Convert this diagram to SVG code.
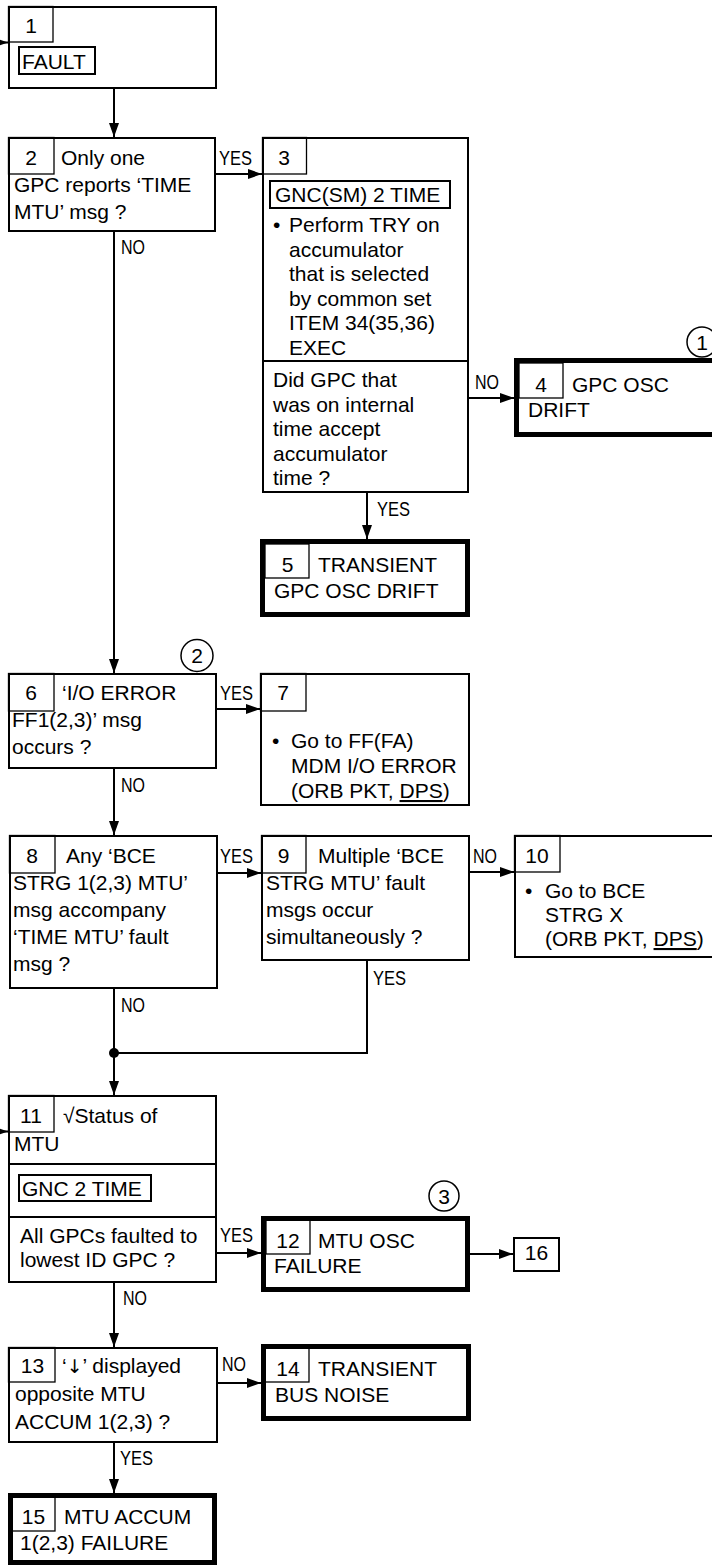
<svg xmlns="http://www.w3.org/2000/svg" width="712" height="1566" viewBox="0 0 712 1566">
<defs>
<marker id="ah" markerUnits="userSpaceOnUse" markerWidth="14" markerHeight="10" refX="14" refY="5" orient="auto">
<path d="M0,0 L14,5 L0,10 z" fill="#000"/>
</marker>
<style>
.box{fill:#fff;stroke:#000;stroke-width:2}
.tbox{fill:#fff;stroke:#000;stroke-width:5}
.nbox{fill:none;stroke:#000;stroke-width:1.3}
.ibox{fill:none;stroke:#000;stroke-width:2}
.div{stroke:#000;stroke-width:2}
.t{font-family:"Liberation Sans",Arial,sans-serif;font-size:21px;fill:#000}
.n{font-family:"Liberation Sans",Arial,sans-serif;font-size:21px;fill:#000;text-anchor:middle}
.lbl{font-family:"Liberation Sans Narrow","Liberation Sans",Arial,sans-serif;font-size:20.5px;fill:#000}
.cn{fill:none;stroke:#000;stroke-width:2}
.circ{fill:#fff;stroke:#000;stroke-width:1.5}
</style>
</defs>
<rect width="712" height="1566" fill="#fff"/>

<g id="connectors">
<path class="cn" d="M-10,42.5 H8" marker-end="url(#ah)"/>
<path class="cn" d="M114,89 V137" marker-end="url(#ah)"/>
<path class="cn" d="M216,174 H262" marker-end="url(#ah)"/>
<path class="cn" d="M469,398 H514" marker-end="url(#ah)"/>
<path class="cn" d="M367,493 V539" marker-end="url(#ah)"/>
<path class="cn" d="M114,232 V673" marker-end="url(#ah)"/>
<path class="cn" d="M217,709 H260" marker-end="url(#ah)"/>
<path class="cn" d="M114,769 V835" marker-end="url(#ah)"/>
<path class="cn" d="M218,873 H261" marker-end="url(#ah)"/>
<path class="cn" d="M470,872 H514" marker-end="url(#ah)"/>
<path class="cn" d="M114,989 V1053"/>
<path class="cn" d="M367,961 V1053 H114"/>
<circle cx="114" cy="1053" r="5" fill="#000"/>
<path class="cn" d="M114,1053 V1095" marker-end="url(#ah)"/>
<path class="cn" d="M-10,1131.5 H8" marker-end="url(#ah)"/>
<path class="cn" d="M217,1253 H261" marker-end="url(#ah)"/>
<path class="cn" d="M470,1254 H513" marker-end="url(#ah)"/>
<path class="cn" d="M114,1283 V1347" marker-end="url(#ah)"/>
<path class="cn" d="M218,1383 H261" marker-end="url(#ah)"/>
<path class="cn" d="M114,1443 V1493" marker-end="url(#ah)"/>
<text class="lbl" x="219" y="165" textLength="33" lengthAdjust="spacingAndGlyphs">YES</text>
<text class="lbl" x="121" y="254" textLength="24" lengthAdjust="spacingAndGlyphs">NO</text>
<text class="lbl" x="475" y="389" textLength="24" lengthAdjust="spacingAndGlyphs">NO</text>
<text class="lbl" x="377" y="516" textLength="33" lengthAdjust="spacingAndGlyphs">YES</text>
<text class="lbl" x="220" y="700" textLength="33" lengthAdjust="spacingAndGlyphs">YES</text>
<text class="lbl" x="121" y="792" textLength="24" lengthAdjust="spacingAndGlyphs">NO</text>
<text class="lbl" x="220" y="863" textLength="33" lengthAdjust="spacingAndGlyphs">YES</text>
<text class="lbl" x="473" y="863" textLength="24" lengthAdjust="spacingAndGlyphs">NO</text>
<text class="lbl" x="373" y="985" textLength="33" lengthAdjust="spacingAndGlyphs">YES</text>
<text class="lbl" x="121" y="1012" textLength="24" lengthAdjust="spacingAndGlyphs">NO</text>
<text class="lbl" x="220" y="1242" textLength="33" lengthAdjust="spacingAndGlyphs">YES</text>
<text class="lbl" x="123" y="1305" textLength="24" lengthAdjust="spacingAndGlyphs">NO</text>
<text class="lbl" x="222" y="1371" textLength="24" lengthAdjust="spacingAndGlyphs">NO</text>
<text class="lbl" x="120" y="1465" textLength="33" lengthAdjust="spacingAndGlyphs">YES</text>
</g>

<g id="node1">
<rect class="box" x="9" y="7" width="207" height="81"/>
<rect class="nbox" x="8.5" y="6.5" width="44.5" height="35.5"/>
<text class="n" x="31" y="33">1</text>
<rect class="ibox" x="19" y="47" width="76" height="27"/>
<text class="t" x="22" y="68.5">FAULT</text>
</g>

<g id="node2">
<rect class="box" x="9" y="138" width="206" height="93"/>
<rect class="nbox" x="8.5" y="137.5" width="45.5" height="36.5"/>
<text class="n" x="31" y="165">2</text>
<text class="t" x="61" y="165">Only one</text>
<text class="t" x="14" y="192">GPC reports ‘TIME</text>
<text class="t" x="14" y="219">MTU’ msg ?</text>
</g>

<g id="node3">
<rect class="box" x="263" y="138" width="205" height="354"/>
<rect class="nbox" x="262.5" y="137.5" width="44" height="36.5"/>
<text class="n" x="284" y="165">3</text>
<rect class="ibox" x="270" y="181" width="180" height="27"/>
<text class="t" x="275" y="202">GNC(SM) 2 TIME</text>
<text class="t" x="273" y="232">•</text>
<text class="t" x="289" y="232">Perform TRY on</text>
<text class="t" x="289" y="256.5">accumulator</text>
<text class="t" x="289" y="281">that is selected</text>
<text class="t" x="289" y="305.5">by common set</text>
<text class="t" x="289" y="330">ITEM 34(35,36)</text>
<text class="t" x="289" y="354.5">EXEC</text>
<line class="div" x1="262" y1="361" x2="469" y2="361"/>
<text class="t" x="273" y="387">Did GPC that</text>
<text class="t" x="273" y="411.5">was on internal</text>
<text class="t" x="273" y="436">time accept</text>
<text class="t" x="273" y="460.5">accumulator</text>
<text class="t" x="273" y="485">time ?</text>
</g>

<g id="node4">
<rect class="tbox" x="516.5" y="360.5" width="220" height="74"/>
<rect class="nbox" x="519" y="363" width="44" height="35"/>
<text class="n" x="541" y="392">4</text>
<text class="t" x="572" y="392">GPC OSC</text>
<text class="t" x="528" y="417">DRIFT</text>
<circle class="circ" cx="702" cy="342" r="15"/>
<text class="n" x="702" y="349.5">1</text>
</g>

<g id="node5">
<rect class="tbox" x="262.5" y="541.5" width="205" height="73"/>
<rect class="nbox" x="265" y="544" width="44" height="34"/>
<text class="n" x="287.5" y="572">5</text>
<text class="t" x="318" y="572">TRANSIENT</text>
<text class="t" x="274" y="598">GPC OSC DRIFT</text>
</g>

<g id="node6">
<rect class="box" x="9" y="674" width="207" height="94"/>
<rect class="nbox" x="8.5" y="673.5" width="45.5" height="37.5"/>
<text class="n" x="31" y="700">6</text>
<text class="t" x="62" y="700">‘I/O ERROR</text>
<text class="t" x="12" y="727">FF1(2,3)’ msg</text>
<text class="t" x="12" y="754">occurs ?</text>
<circle class="circ" cx="197" cy="655.5" r="16"/>
<text class="n" x="197" y="663">2</text>
</g>

<g id="node7">
<rect class="box" x="261" y="674" width="208" height="131"/>
<rect class="nbox" x="260.5" y="673.5" width="45.5" height="37.5"/>
<text class="n" x="283" y="700">7</text>
<text class="t" x="272" y="748">•</text>
<text class="t" x="291" y="748">Go to FF(FA)</text>
<text class="t" x="291" y="773">MDM I/O ERROR</text>
<text class="t" x="291" y="798">(ORB PKT, <tspan text-decoration="underline">DPS</tspan>)</text>
</g>

<g id="node8">
<rect class="box" x="10" y="836" width="207" height="152"/>
<rect class="nbox" x="9.5" y="835.5" width="45.5" height="37.5"/>
<text class="n" x="32" y="863">8</text>
<text class="t" x="66" y="863">Any ‘BCE</text>
<text class="t" x="13" y="890">STRG 1(2,3) MTU’</text>
<text class="t" x="13" y="917">msg accompany</text>
<text class="t" x="13" y="944">‘TIME MTU’ fault</text>
<text class="t" x="13" y="971">msg ?</text>
</g>

<g id="node9">
<rect class="box" x="262" y="836" width="207" height="124"/>
<rect class="nbox" x="261.5" y="835.5" width="44.5" height="37.5"/>
<text class="n" x="283.5" y="863">9</text>
<text class="t" x="318" y="863">Multiple ‘BCE</text>
<text class="t" x="266" y="890">STRG MTU’ fault</text>
<text class="t" x="266" y="917">msgs occur</text>
<text class="t" x="266" y="944">simultaneously ?</text>
</g>

<g id="node10">
<rect class="box" x="515" y="836" width="220" height="121"/>
<rect class="nbox" x="514.5" y="835.5" width="45.5" height="36.5"/>
<text class="n" x="537" y="863">10</text>
<text class="t" x="525" y="898">•</text>
<text class="t" x="545" y="898">Go to BCE</text>
<text class="t" x="545" y="922">STRG X</text>
<text class="t" x="545" y="946">(ORB PKT, <tspan text-decoration="underline">DPS</tspan>)</text>
</g>

<g id="node11">
<rect class="box" x="9" y="1096" width="207" height="186"/>
<rect class="nbox" x="8.5" y="1095.5" width="45.5" height="36.5"/>
<text class="n" x="31" y="1123">11</text>
<text class="t" x="63" y="1123">√Status of</text>
<text class="t" x="14" y="1151">MTU</text>
<line class="div" x1="8" y1="1164" x2="217" y2="1164"/>
<rect class="ibox" x="19" y="1175" width="132" height="26"/>
<text class="t" x="22" y="1196">GNC 2 TIME</text>
<line class="div" x1="8" y1="1217" x2="217" y2="1217"/>
<text class="t" x="20" y="1243">All GPCs faulted to</text>
<text class="t" x="20" y="1267">lowest ID GPC ?</text>
</g>

<g id="node12">
<rect class="tbox" x="263.5" y="1218.5" width="204" height="71"/>
<rect class="nbox" x="266" y="1220" width="44" height="34"/>
<text class="n" x="288" y="1248">12</text>
<text class="t" x="318" y="1248">MTU OSC</text>
<text class="t" x="274" y="1273">FAILURE</text>
<circle class="circ" cx="444" cy="1196" r="15"/>
<text class="n" x="444" y="1203.5">3</text>
</g>

<g id="node16">
<rect class="box" x="514" y="1238" width="45" height="33"/>
<text class="n" x="536.5" y="1260">16</text>
</g>

<g id="node13">
<rect class="box" x="9" y="1348" width="208" height="94"/>
<rect class="nbox" x="8.5" y="1347.5" width="46.5" height="34.5"/>
<text class="n" x="32.5" y="1373">13</text>
<text class="t" x="62" y="1373">‘<tspan font-family="DejaVu Sans, sans-serif" font-size="19">↓</tspan>’ displayed</text>
<text class="t" x="15" y="1401">opposite MTU</text>
<text class="t" x="15" y="1429">ACCUM 1(2,3) ?</text>
</g>

<g id="node14">
<rect class="tbox" x="263.5" y="1346.5" width="205" height="72"/>
<rect class="nbox" x="265" y="1348" width="44" height="34"/>
<text class="n" x="288" y="1376">14</text>
<text class="t" x="318" y="1376">TRANSIENT</text>
<text class="t" x="275" y="1402">BUS NOISE</text>
</g>

<g id="node15">
<rect class="tbox" x="10.5" y="1495.5" width="204" height="67"/>
<rect class="nbox" x="12" y="1497" width="43" height="34"/>
<text class="n" x="33.5" y="1524">15</text>
<text class="t" x="64" y="1524">MTU ACCUM</text>
<text class="t" x="20" y="1550">1(2,3) FAILURE</text>
</g>
</svg>
